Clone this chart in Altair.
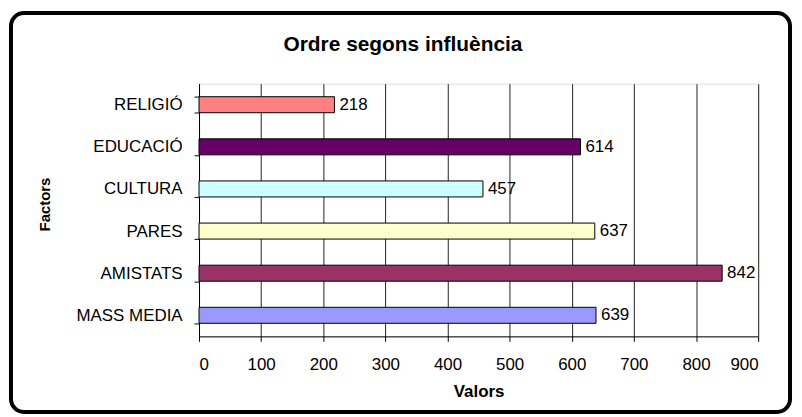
import altair as alt
import pandas as pd

factors = ["RELIGIÓ", "EDUCACIÓ", "CULTURA", "PARES", "AMISTATS", "MASS MEDIA"]
valors = [218, 614, 457, 637, 842, 639]
colors = ["#FF8080", "#660066", "#CCFFFF", "#FFFFCC", "#993366", "#9999FF"]
x_ticks = list(range(0, 901, 100))

df = pd.DataFrame({"Factor": factors, "Valor": valors, "Color": colors})

W, H = 562, 254
FONT = "Liberation Sans"

y_enc = alt.Y(
    "Factor:N",
    sort=factors,
    scale=alt.Scale(paddingInner=0.62, paddingOuter=0.31),
    axis=alt.Axis(
        title="Factors",
        tickBand="extent",
        ticks=True,
        tickSize=5,
        labelPadding=12,
        labelFontSize=17,
        labelFont=FONT,
        labelColor="black",
        titleFont=FONT,
        titleFontSize=15,
        titleFontWeight="bold",
        titleAngle=270,
        titleAlign="center",
        titleBaseline="middle",
        titleX=-155,
        titleY=121,
        grid=False,
        domainColor="black",
        tickColor="black",
    ),
)
x_enc = alt.X(
    "Valor:Q",
    scale=alt.Scale(domain=[0, 900], nice=False, zero=True),
    axis=alt.Axis(
        values=x_ticks,
        title="Valors",
        grid=True,
        gridColor="#222222",
        gridWidth=1,
        tickSize=5,
        labelPadding=15,
        labelFontSize=17,
        labelFont=FONT,
        labelColor="black",
        titleFont=FONT,
        titleFontSize=17,
        titleFontWeight="bold",
        titleBaseline="top",
        titleY=47,
        domainColor="black",
        tickColor="black",
    ),
)

frame = alt.Chart(pd.DataFrame({"k": [0]})).mark_rect(
    fill="transparent", stroke="black", strokeWidth=4, cornerRadius=13
).encode(
    x=alt.value(-189), x2=alt.value(594), y=alt.value(-71), y2=alt.value(330)
)

bars = alt.Chart(df).mark_bar(stroke="black", strokeWidth=1).encode(
    y=y_enc,
    x=x_enc,
    color=alt.Color("Color:N", scale=None),
)

labels = alt.Chart(df).mark_text(
    align="left", baseline="middle", dx=5, fontSize=17, font=FONT, color="black"
).encode(
    y=alt.Y("Factor:N", sort=factors),
    x=alt.X("Valor:Q"),
    text="Valor:Q",
)

chart = (
    alt.layer(frame, bars, labels)
    .properties(
        width=W,
        height=H,
        title=alt.TitleParams(
            "Ordre segons influència",
            font=FONT,
            fontSize=21,
            fontWeight="bold",
            color="black",
            anchor="middle",
            dx=-76,
            dy=95,
            offset=34,
            baseline="alphabetic",
        ),
        autosize=alt.AutoSizeParams(type="none"),
        padding={"left": 192, "top": 75, "right": 36, "bottom": 78},
    )
    .configure_view(stroke=None)
    .configure(background="white")
)

chart.save("out.html", embed_options={"renderer": "svg", "actions": False})
